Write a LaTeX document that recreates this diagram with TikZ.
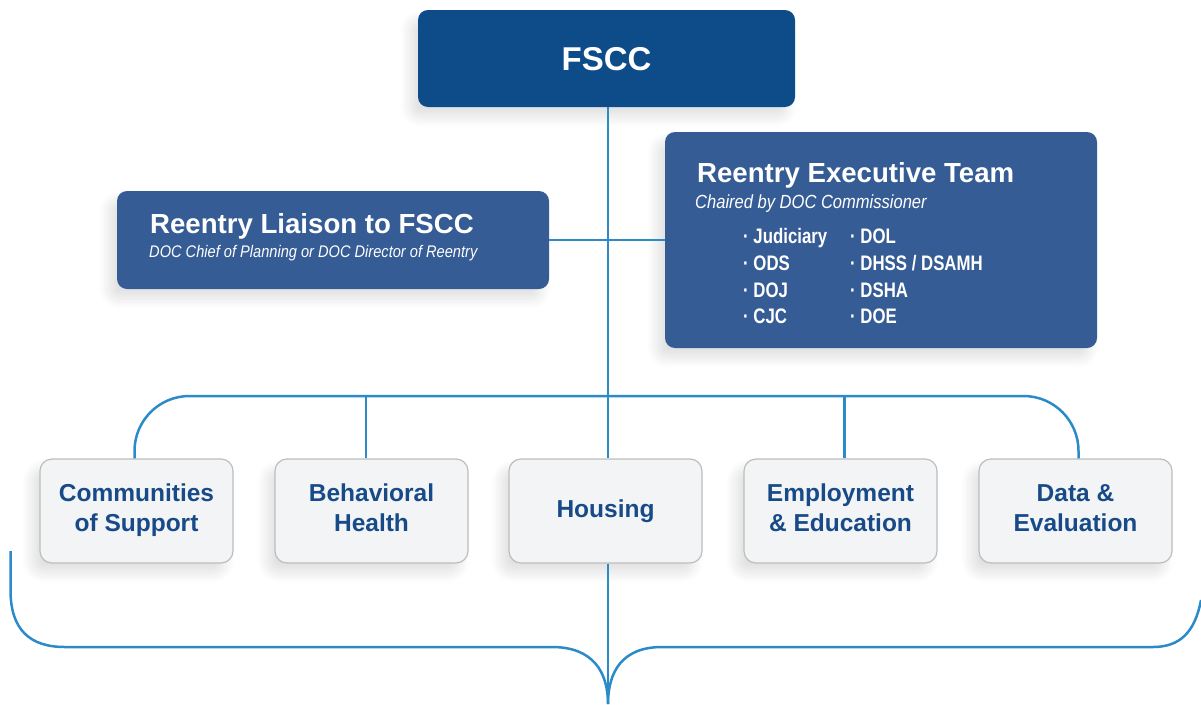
\documentclass[tikz,border=0pt]{standalone}
\usepackage{fontspec}
\setmainfont{Liberation Sans}
\newfontfamily\condfont[FakeStretch=0.87]{Liberation Sans}
\newfontfamily\condbold[FakeStretch=0.8]{Liberation Sans Bold}
\usetikzlibrary{shadows.blur}
\definecolor{fsccblue}{HTML}{0D4C89}
\definecolor{midblue}{HTML}{365C95}
\definecolor{linkblue}{HTML}{2B8AC8}
\definecolor{textblue}{HTML}{174A87}
\definecolor{boxfill}{HTML}{F3F4F6}
\definecolor{boxline}{HTML}{BDBDBD}
\tikzset{
  softshadow/.style={blur shadow={shadow xshift=-8pt, shadow yshift=-10pt, shadow opacity=12, shadow blur steps=12, shadow blur radius=10pt}},
  topbox/.style={fill=fsccblue, rounded corners=10pt, minimum width=377pt, minimum height=97pt, inner sep=0pt, softshadow},
  darkbox/.style={fill=midblue, rounded corners=10pt, minimum width=432pt, inner sep=0pt, softshadow},
  areabox/.style={fill=boxfill, draw=boxline, line width=1.2pt, rounded corners=12pt, minimum width=193pt, minimum height=104pt, inner sep=0pt, softshadow},
  areatext/.style={anchor=base, inner sep=0pt, text=textblue, font=\fontsize{24.5}{30}\selectfont\bfseries},
  title/.style={anchor=base west, inner sep=0pt, text=white, font=\fontsize{27.6}{30}\selectfont\bfseries},
  subtitle/.style={anchor=base west, inner sep=0pt, text=white},
  item/.style={anchor=base west, inner sep=0pt, text=white, font=\condbold\fontsize{21}{24}\selectfont},
  link/.style={draw=linkblue, line width=2.5pt},
}
\newcommand{\twolines}[2]{\begin{tabular}[b]{@{}c@{}}#1\\#2\end{tabular}}
\begin{document}
\begin{tikzpicture}[x=1pt,y=-1pt]
\useasboundingbox (0,0) rectangle (1201,704);

% boxes
\node[topbox] (fscc) at (606.5,58.5) {};
\node[text=white, font=\fontsize{33}{38}\selectfont\bfseries, inner sep=0pt] (fscct) at (606.5,58.7) {FSCC};

\node[darkbox, minimum height=98pt] (liaison) at (333,240) {};
\node[title] (liaisont) at (150,233) {Reentry Liaison to FSCC};
\node[subtitle, font=\condfont\itshape\fontsize{16.8}{20}\selectfont] (liaisons) at (149,257) {DOC Chief of Planning or DOC Director of Reentry};

\node[darkbox, minimum height=216pt] (exec) at (881,240) {};
\node[title] (exect) at (697,182) {Reentry Executive Team};
\node[subtitle, font=\condfont\itshape\fontsize{19}{22}\selectfont] (execs) at (695,208) {Chaired by DOC Commissioner};
\node[item] (i1) at (743,243) {· Judiciary};
\node[item] (i2) at (743,270) {· ODS};
\node[item] (i3) at (743,297) {· DOJ};
\node[item] (i4) at (743,323) {· CJC};
\node[item] (j1) at (850,243) {· DOL};
\node[item] (j2) at (850,270) {· DHSS / DSAMH};
\node[item] (j3) at (850,297) {· DSHA};
\node[item] (j4) at (850,323) {· DOE};

\node[areabox] (comm) at (136.5,511) {};
\node[areabox] (beh) at (371.5,511) {};
\node[areabox] (hous) at (605.5,511) {};
\node[areabox] (emp) at (840.5,511) {};
\node[areabox] (data) at (1075.5,511) {};
\node[areatext] (commt) at (136.5,531) {\twolines{Communities}{of Support}};
\node[areatext] (beht) at (371.5,531) {\twolines{Behavioral}{Health}};
\node[areatext] (houst) at (605.5,517) {Housing};
\node[areatext] (empt) at (840.5,531) {\twolines{Employment}{\& Education}};
\node[areatext] (datat) at (1075.5,531) {\twolines{Data \&}{Evaluation}};

% connectors
\coordinate (busL) at (134.5,396);
\coordinate (busR) at (1078.5,396);
\draw[link] ([xshift=1.5pt]fscc.south) -- ([xshift=2.5pt]hous.north);
\draw[link] (liaison.east) -- (exec.west);
\draw[link, rounded corners=55pt] (comm.north -| busL) -- (busL) -- (busR) -- (data.north -| busR);
\draw[link] ([xshift=-5.5pt]beh.north) -- ([xshift=-5.5pt]beh.north |- busL);
\draw[link] ([xshift=4pt]emp.north) -- ([xshift=4pt]emp.north |- busL);

\coordinate (tip) at (608,704);
\coordinate (bl) at (10.5,551);
\coordinate (br) at (1201,600);
\draw[link] ([xshift=2.5pt]hous.south) -- (tip);
\draw[link] (bl) -- (10.5,590) .. controls (10.5,630) and (30,647) .. (65,647) -- (552,647)
  .. controls (593,647) and (608,672) .. (tip);
\draw[link] (br) .. controls (1195,632) and (1180,647) .. (1153,647) -- (662,647)
  .. controls (622,647) and (608,672) .. (tip);
\end{tikzpicture}
\end{document}
